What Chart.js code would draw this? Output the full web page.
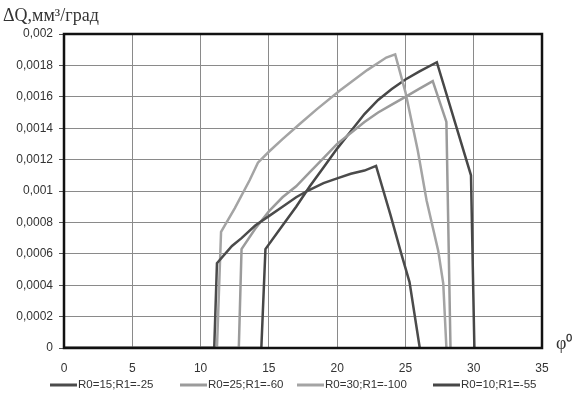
<!DOCTYPE html>
<html>
<head>
<meta charset="utf-8">
<script src="https://cdn.jsdelivr.net/npm/chart.js@4.4.0/dist/chart.umd.min.js"></script>
<style>
html, body { margin: 0; padding: 0; background: #fff; }
</style>
</head>
<body>
<canvas id="myChart" width="579" height="394"></canvas>
<script>
// angle, degrees / delta Q per degree
const seriesLabels = ['R0=15;R1=-25', 'R0=25;R1=-60', 'R0=30;R1=-100', 'R0=10;R1=-55'];

const phi1 = [0, 11.0, 11.2, 12.3, 13, 14, 15, 16, 17, 17.8, 19, 20, 21, 22, 22.85, 23.9, 24.7, 25.3, 26.05];
const dq1  = [0, 0, 0.00054, 0.00065, 0.0007, 0.00078, 0.00084, 0.0009, 0.00096, 0.001, 0.00105, 0.00108, 0.00111, 0.00113, 0.00116, 0.00085, 0.0006, 0.00042, 0];

const phi2 = [0, 12.8, 13.0, 14, 15, 16, 17, 18, 19, 20, 21, 22, 23, 24, 25, 26, 27.0, 28.0, 28.3];
const dq2  = [0, 0, 0.00063, 0.00076, 0.00087, 0.00096, 0.00103, 0.00112, 0.00121, 0.0013, 0.00137, 0.00144, 0.0015, 0.00155, 0.0016, 0.00165, 0.0017, 0.00144, 0];

const phi3 = [0, 11.2, 11.5, 12.5, 13.6, 14.2, 15, 16, 17.3, 18.5, 20.2, 22.2, 23.6, 24.25, 25.0, 25.9, 26.55, 27.4, 27.77, 28.0];
const dq3  = [0, 0, 0.00074, 0.00089, 0.00107, 0.00118, 0.00125, 0.00133, 0.00143, 0.00152, 0.00164, 0.00177, 0.00185, 0.00187, 0.00163, 0.00126, 0.00094, 0.00062, 0.00041, 0];

const phi4 = [0, 14.45, 14.75, 16, 17, 18, 19, 20, 21, 22, 23, 24, 25, 26, 27.3, 29.8, 30.05];
const dq4  = [0, 0, 0.00063, 0.00078, 0.0009, 0.00103, 0.00115, 0.00127, 0.00138, 0.00149, 0.00158, 0.00165, 0.00171, 0.00176, 0.00182, 0.0011, 0];

const xTickLabels = ['0', '5', '10', '15', '20', '25', '30', '35'];
const yTickLabels = ['0', '0,0002', '0,0004', '0,0006', '0,0008', '0,001', '0,0012', '0,0014', '0,0016', '0,0018', '0,002'];

const yTitle = 'ΔQ,мм³/град';
const xTitle = 'φ⁰';

const colors = ['#4b4b4b', '#9b9b9b', '#a4a4a4', '#474747'];

function toPoints(xs, ys) {
    return xs.map((x, i) => ({ x: x, y: ys[i] }));
}

const allX = [phi1, phi2, phi3, phi4];
const allY = [dq1, dq2, dq3, dq4];

const datasets = seriesLabels.map((label, i) => ({
    label: label,
    data: toPoints(allX[i], allY[i]),
    borderColor: colors[i],
    backgroundColor: colors[i],
    borderWidth: 2.5,
    pointRadius: 0,
    tension: 0
}));

// frame, axis titles and legend drawn by hand
const extras = {
    id: 'extras',
    afterDatasetsDraw(chart) {
        const ctx = chart.ctx;
        const a = chart.chartArea;
        ctx.save();
        ctx.strokeStyle = '#111';
        ctx.lineWidth = 2.5;
        ctx.strokeRect(a.left, a.top, a.right - a.left, a.bottom - a.top);
        ctx.restore();
    },
    afterDraw(chart) {
        const ctx = chart.ctx;
        ctx.save();
        ctx.fillStyle = '#333';
        ctx.textBaseline = 'alphabetic';
        ctx.font = '18px "Liberation Serif"';
        ctx.fillText(yTitle, 3, 21);
        ctx.fillText(xTitle, 556, 349);

        const lineX = [50, 180, 297, 433];
        const y = 385;
        ctx.font = '11.5px "Liberation Sans"';
        ctx.textBaseline = 'middle';
        chart.data.datasets.forEach((ds, i) => {
            ctx.strokeStyle = ds.borderColor;
            ctx.lineWidth = 3;
            ctx.beginPath();
            ctx.moveTo(lineX[i], y);
            ctx.lineTo(lineX[i] + 27, y);
            ctx.stroke();
            ctx.fillStyle = '#333';
            ctx.fillText(ds.label, lineX[i] + 28, y);
        });
        ctx.restore();
    }
};

const ctx = document.getElementById('myChart');
new Chart(ctx, {
    type: 'line',
    data: { datasets: datasets },
    plugins: [extras],
    options: {
        responsive: false,
        animation: false,
        devicePixelRatio: 1,
        layout: { padding: { top: 34, right: 37, left: 0, bottom: 0 } },
        plugins: {
            legend: { display: false },
            tooltip: { enabled: false }
        },
        scales: {
            x: {
                type: 'linear',
                min: 0,
                max: 35,
                afterFit: s => { s.height = 46; },
                border: { display: false },
                grid: { color: '#8a8a8a', lineWidth: 1, drawTicks: false },
                ticks: {
                    stepSize: 5,
                    padding: 13,
                    maxRotation: 0,
                    color: '#333',
                    font: { family: 'Liberation Sans', size: 12 },
                    callback: (v, i) => xTickLabels[i]
                }
            },
            y: {
                min: 0,
                max: 0.002,
                afterFit: s => { s.width = 64; },
                border: { display: false },
                grid: { color: '#8a8a8a', lineWidth: 1, tickLength: 5, tickColor: '#555' },
                ticks: {
                    stepSize: 0.0002,
                    padding: 6,
                    color: '#333',
                    font: { family: 'Liberation Sans', size: 12 },
                    callback: (v, i) => yTickLabels[i]
                }
            }
        }
    }
});
</script>
</body>
</html>
